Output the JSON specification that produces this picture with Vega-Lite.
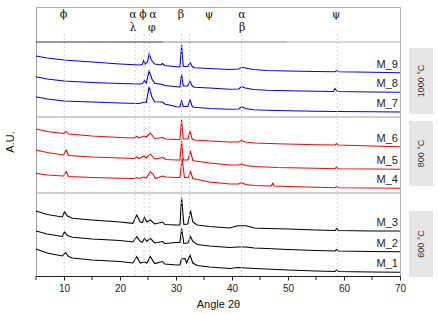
{
 "$schema": "https://vega.github.io/schema/vega-lite/v6.json",
 "width": 364, "height": 269,
 "autosize": {"type": "none"},
 "padding": {"left": 36, "top": 7, "right": 38, "bottom": 38},
 "config": {"view": {"stroke": "#b0b0b0", "strokeWidth": 1}, "font": "Liberation Sans"},
 "datasets": {
  "xrd": [
{"s":"M_9","t":5,"i":220},{"s":"M_9","t":7,"i":218},{"s":"M_9","t":10,"i":216},{"s":"M_9","t":15,"i":214},{"s":"M_9","t":20,"i":212},{"s":"M_9","t":23.5,"i":211},{"s":"M_9","t":24.0,"i":211.5},{"s":"M_9","t":24.2,"i":215.3},{"s":"M_9","t":24.5,"i":212},{"s":"M_9","t":24.9,"i":214},{"s":"M_9","t":25.2,"i":222},{"s":"M_9","t":25.6,"i":216},{"s":"M_9","t":26.2,"i":212},{"s":"M_9","t":27.3,"i":211},{"s":"M_9","t":27.6,"i":212.5},{"s":"M_9","t":28,"i":210.5},{"s":"M_9","t":30.1,"i":209.3},{"s":"M_9","t":30.7,"i":209},{"s":"M_9","t":31.0,"i":231},{"s":"M_9","t":31.3,"i":209.5},{"s":"M_9","t":32.1,"i":209.5},{"s":"M_9","t":32.5,"i":213.3},{"s":"M_9","t":32.9,"i":209.5},{"s":"M_9","t":33.3,"i":208.3},{"s":"M_9","t":36,"i":207.5},{"s":"M_9","t":39.6,"i":206.5},{"s":"M_9","t":41.2,"i":207},{"s":"M_9","t":41.7,"i":208.7},{"s":"M_9","t":42.4,"i":208},{"s":"M_9","t":43.8,"i":206.5},{"s":"M_9","t":46.2,"i":205.5},{"s":"M_9","t":50,"i":205},{"s":"M_9","t":55,"i":204.5},{"s":"M_9","t":58.4,"i":204.3},{"s":"M_9","t":58.7,"i":205.5},{"s":"M_9","t":59.0,"i":204.3},{"s":"M_9","t":65,"i":203.7},{"s":"M_9","t":70,"i":203.3},
{"s":"M_8","t":5,"i":199.3},{"s":"M_8","t":7,"i":197},{"s":"M_8","t":10,"i":195},{"s":"M_8","t":15,"i":193.5},{"s":"M_8","t":20,"i":192.5},{"s":"M_8","t":23.5,"i":192},{"s":"M_8","t":24.0,"i":192.5},{"s":"M_8","t":24.35,"i":195.3},{"s":"M_8","t":24.7,"i":193},{"s":"M_8","t":25.2,"i":205.3},{"s":"M_8","t":25.7,"i":197},{"s":"M_8","t":26.2,"i":192.7},{"s":"M_8","t":27.6,"i":191.5},{"s":"M_8","t":27.9,"i":190.5},{"s":"M_8","t":30.1,"i":189.3},{"s":"M_8","t":30.7,"i":189},{"s":"M_8","t":31.0,"i":202},{"s":"M_8","t":31.3,"i":190},{"s":"M_8","t":32.1,"i":190},{"s":"M_8","t":32.5,"i":194.7},{"s":"M_8","t":32.9,"i":190},{"s":"M_8","t":33.3,"i":188.7},{"s":"M_8","t":36,"i":188},{"s":"M_8","t":39.6,"i":186.7},{"s":"M_8","t":41.2,"i":187},{"s":"M_8","t":41.7,"i":189.3},{"s":"M_8","t":42.4,"i":188},{"s":"M_8","t":43.8,"i":186.5},{"s":"M_8","t":46.2,"i":185.7},{"s":"M_8","t":50,"i":185.2},{"s":"M_8","t":55,"i":184.7},{"s":"M_8","t":58.1,"i":184.5},{"s":"M_8","t":58.4,"i":187.5},{"s":"M_8","t":58.8,"i":184.5},{"s":"M_8","t":65,"i":184},{"s":"M_8","t":70,"i":183.7},
{"s":"M_7","t":5,"i":179.3},{"s":"M_7","t":7,"i":177},{"s":"M_7","t":10,"i":175},{"s":"M_7","t":15,"i":174},{"s":"M_7","t":20,"i":173},{"s":"M_7","t":23.5,"i":172.5},{"s":"M_7","t":24.3,"i":174},{"s":"M_7","t":24.7,"i":173.5},{"s":"M_7","t":25.2,"i":189.3},{"s":"M_7","t":25.7,"i":179},{"s":"M_7","t":26.2,"i":174.3},{"s":"M_7","t":27.6,"i":174},{"s":"M_7","t":28,"i":172},{"s":"M_7","t":30.1,"i":169.3},{"s":"M_7","t":30.7,"i":169},{"s":"M_7","t":31.0,"i":175.3},{"s":"M_7","t":31.3,"i":169.5},{"s":"M_7","t":32.1,"i":169.5},{"s":"M_7","t":32.5,"i":176},{"s":"M_7","t":32.9,"i":169.5},{"s":"M_7","t":33.3,"i":168.7},{"s":"M_7","t":36,"i":167.5},{"s":"M_7","t":39.6,"i":166.7},{"s":"M_7","t":41.2,"i":167},{"s":"M_7","t":41.7,"i":169.3},{"s":"M_7","t":42.4,"i":167.5},{"s":"M_7","t":43.8,"i":166.3},{"s":"M_7","t":46.2,"i":165.7},{"s":"M_7","t":50,"i":165.2},{"s":"M_7","t":55,"i":164.7},{"s":"M_7","t":58.7,"i":164.5},{"s":"M_7","t":65,"i":164.2},{"s":"M_7","t":70,"i":164},
{"s":"M_6","t":5,"i":147},{"s":"M_6","t":7,"i":144.5},{"s":"M_6","t":9.9,"i":142.5},{"s":"M_6","t":10.4,"i":144.5},{"s":"M_6","t":10.8,"i":142},{"s":"M_6","t":15,"i":140},{"s":"M_6","t":20,"i":138.5},{"s":"M_6","t":22.5,"i":138},{"s":"M_6","t":23.0,"i":139.5},{"s":"M_6","t":23.4,"i":138},{"s":"M_6","t":24.3,"i":140},{"s":"M_6","t":24.7,"i":139},{"s":"M_6","t":25.4,"i":143},{"s":"M_6","t":26.2,"i":137.5},{"s":"M_6","t":27.6,"i":138.5},{"s":"M_6","t":28.2,"i":137},{"s":"M_6","t":30.1,"i":136.5},{"s":"M_6","t":30.7,"i":136.5},{"s":"M_6","t":31.0,"i":156},{"s":"M_6","t":31.3,"i":137},{"s":"M_6","t":32.1,"i":137},{"s":"M_6","t":32.5,"i":144.3},{"s":"M_6","t":32.9,"i":137},{"s":"M_6","t":33.3,"i":136},{"s":"M_6","t":36,"i":135},{"s":"M_6","t":39.6,"i":134},{"s":"M_6","t":41.2,"i":134},{"s":"M_6","t":41.7,"i":135.5},{"s":"M_6","t":42.4,"i":134},{"s":"M_6","t":44,"i":133},{"s":"M_6","t":48,"i":132.2},{"s":"M_6","t":55,"i":131.3},{"s":"M_6","t":58.4,"i":131},{"s":"M_6","t":58.7,"i":132.5},{"s":"M_6","t":59.0,"i":131},{"s":"M_6","t":65,"i":130},{"s":"M_6","t":70,"i":129.3},
{"s":"M_5","t":5,"i":126},{"s":"M_5","t":7,"i":123.5},{"s":"M_5","t":9.9,"i":121},{"s":"M_5","t":10.4,"i":126},{"s":"M_5","t":10.8,"i":120.5},{"s":"M_5","t":15,"i":119},{"s":"M_5","t":20,"i":118},{"s":"M_5","t":22.5,"i":117.5},{"s":"M_5","t":23.0,"i":119},{"s":"M_5","t":23.4,"i":117.5},{"s":"M_5","t":24.3,"i":120},{"s":"M_5","t":24.7,"i":118},{"s":"M_5","t":25.4,"i":122},{"s":"M_5","t":26.2,"i":117},{"s":"M_5","t":27.6,"i":118.5},{"s":"M_5","t":28.2,"i":116.5},{"s":"M_5","t":30.1,"i":116},{"s":"M_5","t":30.7,"i":116},{"s":"M_5","t":31.0,"i":135},{"s":"M_5","t":31.3,"i":116},{"s":"M_5","t":32.1,"i":116},{"s":"M_5","t":32.6,"i":124.3},{"s":"M_5","t":33.0,"i":115.5},{"s":"M_5","t":33.4,"i":115},{"s":"M_5","t":36,"i":113},{"s":"M_5","t":39.6,"i":111},{"s":"M_5","t":41.2,"i":111},{"s":"M_5","t":41.7,"i":112},{"s":"M_5","t":42.4,"i":110.5},{"s":"M_5","t":44,"i":109.5},{"s":"M_5","t":48,"i":108.5},{"s":"M_5","t":55,"i":107.7},{"s":"M_5","t":58.4,"i":107.3},{"s":"M_5","t":58.7,"i":109},{"s":"M_5","t":59.0,"i":107.3},{"s":"M_5","t":65,"i":107},{"s":"M_5","t":70,"i":106.7},
{"s":"M_4","t":5,"i":102.7},{"s":"M_4","t":7,"i":101},{"s":"M_4","t":9.9,"i":100},{"s":"M_4","t":10.4,"i":104.3},{"s":"M_4","t":10.8,"i":99.5},{"s":"M_4","t":15,"i":98.5},{"s":"M_4","t":20,"i":97.7},{"s":"M_4","t":22.5,"i":97.5},{"s":"M_4","t":23.0,"i":98.5},{"s":"M_4","t":23.4,"i":97.5},{"s":"M_4","t":24.3,"i":99},{"s":"M_4","t":24.7,"i":98},{"s":"M_4","t":25.4,"i":104.3},{"s":"M_4","t":25.9,"i":102},{"s":"M_4","t":26.3,"i":97.5},{"s":"M_4","t":27.6,"i":100},{"s":"M_4","t":28.2,"i":99},{"s":"M_4","t":30.1,"i":98.5},{"s":"M_4","t":30.7,"i":98.5},{"s":"M_4","t":31.1,"i":117.7},{"s":"M_4","t":31.5,"i":98.5},{"s":"M_4","t":32.2,"i":98.5},{"s":"M_4","t":32.6,"i":104.3},{"s":"M_4","t":33.0,"i":97.5},{"s":"M_4","t":33.4,"i":97},{"s":"M_4","t":36,"i":94},{"s":"M_4","t":39.6,"i":92},{"s":"M_4","t":41.2,"i":92},{"s":"M_4","t":41.7,"i":93.3},{"s":"M_4","t":42.4,"i":91.5},{"s":"M_4","t":44,"i":90.5},{"s":"M_4","t":47.0,"i":90},{"s":"M_4","t":47.3,"i":93},{"s":"M_4","t":47.5,"i":90},{"s":"M_4","t":50,"i":89.5},{"s":"M_4","t":55,"i":88.7},{"s":"M_4","t":58.4,"i":88.3},{"s":"M_4","t":58.7,"i":89.5},{"s":"M_4","t":59.0,"i":88.3},{"s":"M_4","t":65,"i":88},{"s":"M_4","t":70,"i":87.7},
{"s":"M_3","t":5,"i":65},{"s":"M_3","t":7,"i":61.5},{"s":"M_3","t":9.7,"i":59},{"s":"M_3","t":10.1,"i":64.3},{"s":"M_3","t":10.6,"i":60},{"s":"M_3","t":11.5,"i":57.7},{"s":"M_3","t":15,"i":56},{"s":"M_3","t":20,"i":54},{"s":"M_3","t":22.3,"i":52.7},{"s":"M_3","t":23.0,"i":61},{"s":"M_3","t":23.6,"i":54},{"s":"M_3","t":24.0,"i":53.5},{"s":"M_3","t":24.35,"i":58.7},{"s":"M_3","t":24.8,"i":54},{"s":"M_3","t":25.4,"i":56},{"s":"M_3","t":26.2,"i":52},{"s":"M_3","t":27.6,"i":54},{"s":"M_3","t":28.0,"i":51.5},{"s":"M_3","t":30.1,"i":51},{"s":"M_3","t":30.7,"i":51},{"s":"M_3","t":31.0,"i":78.5},{"s":"M_3","t":31.4,"i":51.5},{"s":"M_3","t":32.1,"i":52},{"s":"M_3","t":32.6,"i":65.3},{"s":"M_3","t":33.0,"i":54},{"s":"M_3","t":33.8,"i":51},{"s":"M_3","t":36,"i":49.5},{"s":"M_3","t":39.6,"i":48},{"s":"M_3","t":41.0,"i":50.3},{"s":"M_3","t":42.5,"i":50.3},{"s":"M_3","t":44,"i":48},{"s":"M_3","t":46.2,"i":47.5},{"s":"M_3","t":50,"i":47},{"s":"M_3","t":55,"i":46},{"s":"M_3","t":58.4,"i":45.5},{"s":"M_3","t":58.7,"i":47.5},{"s":"M_3","t":59.0,"i":45.5},{"s":"M_3","t":65,"i":45},{"s":"M_3","t":70,"i":45},
{"s":"M_2","t":5,"i":45},{"s":"M_2","t":7,"i":42},{"s":"M_2","t":9.7,"i":39.5},{"s":"M_2","t":10.1,"i":44.3},{"s":"M_2","t":10.6,"i":40.5},{"s":"M_2","t":11.5,"i":38.7},{"s":"M_2","t":15,"i":37},{"s":"M_2","t":20,"i":35.5},{"s":"M_2","t":22.3,"i":34},{"s":"M_2","t":23.0,"i":39.3},{"s":"M_2","t":23.6,"i":34.5},{"s":"M_2","t":24.0,"i":34},{"s":"M_2","t":24.35,"i":37.7},{"s":"M_2","t":24.8,"i":34.5},{"s":"M_2","t":25.4,"i":37.7},{"s":"M_2","t":26.2,"i":33},{"s":"M_2","t":27.6,"i":34.5},{"s":"M_2","t":28.0,"i":32.5},{"s":"M_2","t":30.1,"i":33.5},{"s":"M_2","t":30.7,"i":33.5},{"s":"M_2","t":31.0,"i":47.5},{"s":"M_2","t":31.4,"i":32.5},{"s":"M_2","t":32.1,"i":33},{"s":"M_2","t":32.6,"i":39.3},{"s":"M_2","t":33.0,"i":34.5},{"s":"M_2","t":33.8,"i":31.5},{"s":"M_2","t":36,"i":30},{"s":"M_2","t":39.6,"i":28.5},{"s":"M_2","t":41.0,"i":29},{"s":"M_2","t":42.5,"i":29},{"s":"M_2","t":44,"i":28},{"s":"M_2","t":46.2,"i":27.5},{"s":"M_2","t":50,"i":26.5},{"s":"M_2","t":55,"i":25.5},{"s":"M_2","t":58.4,"i":25},{"s":"M_2","t":58.7,"i":26.5},{"s":"M_2","t":59.0,"i":25},{"s":"M_2","t":65,"i":24.5},{"s":"M_2","t":70,"i":24.3},
{"s":"M_1","t":5,"i":27},{"s":"M_1","t":7,"i":23},{"s":"M_1","t":9.7,"i":20},{"s":"M_1","t":10.3,"i":23.3},{"s":"M_1","t":10.8,"i":19.5},{"s":"M_1","t":11.5,"i":18},{"s":"M_1","t":15,"i":16},{"s":"M_1","t":20,"i":14.5},{"s":"M_1","t":22.3,"i":13},{"s":"M_1","t":23.0,"i":19.3},{"s":"M_1","t":23.6,"i":13},{"s":"M_1","t":24.35,"i":14},{"s":"M_1","t":24.8,"i":13},{"s":"M_1","t":25.4,"i":19.3},{"s":"M_1","t":26.2,"i":12.5},{"s":"M_1","t":27.6,"i":14.5},{"s":"M_1","t":28.0,"i":12},{"s":"M_1","t":30.1,"i":11},{"s":"M_1","t":30.7,"i":11},{"s":"M_1","t":31.0,"i":17.7},{"s":"M_1","t":31.3,"i":17},{"s":"M_1","t":31.6,"i":17.5},{"s":"M_1","t":31.9,"i":13},{"s":"M_1","t":32.5,"i":21},{"s":"M_1","t":33.0,"i":13},{"s":"M_1","t":33.8,"i":10.5},{"s":"M_1","t":36,"i":9},{"s":"M_1","t":39.6,"i":7.5},{"s":"M_1","t":41.0,"i":8.5},{"s":"M_1","t":42.5,"i":8},{"s":"M_1","t":44,"i":7.5},{"s":"M_1","t":46.2,"i":7},{"s":"M_1","t":50,"i":6},{"s":"M_1","t":55,"i":5},{"s":"M_1","t":58.4,"i":4.5},{"s":"M_1","t":58.7,"i":6},{"s":"M_1","t":59.0,"i":4.5},{"s":"M_1","t":65,"i":4},{"s":"M_1","t":70,"i":3.7}
  ],
  "ref": [{"t":10.05},{"t":22.7},{"t":24.3},{"t":25.3},{"t":31.0},{"t":32.4},{"t":41.7},{"t":58.8}],
  "minor": [{"m":5},{"m":15},{"m":25},{"m":35},{"m":45},{"m":55},{"m":65}],
  "phase": [
   {"p":"ϕ","t":9.9,"y":261},{"p":"α","t":22.3,"y":261},{"p":"ϕ","t":24.1,"y":261},{"p":"α","t":25.9,"y":261},{"p":"β","t":30.9,"y":261},{"p":"ψ","t":35.9,"y":261},{"p":"α","t":41.8,"y":261},{"p":"ψ","t":58.6,"y":261},
   {"p":"λ","t":22.3,"y":248},{"p":"φ","t":25.7,"y":248},{"p":"β","t":41.8,"y":248}
  ],
  "sep": [
   {"a":5,"b":27.7,"y":234,"c":"#333333"},{"a":27.7,"b":49.8,"y":234,"c":"#888888"},{"a":49.8,"b":70,"y":234,"c":"#b0b0b0"},
   {"a":5,"b":70,"y":159,"c":"#a0a0a0"},{"a":5,"b":70,"y":83,"c":"#a0a0a0"}
  ],
  "strip": [
   {"lab":"1000 °C","y1":228,"y2":162,"yc":195},
   {"lab":"800 °C","y1":155,"y2":90,"yc":122.5},
   {"lab":"600 °C","y1":65,"y2":-1,"yc":32}
  ]
 },
 "layer": [
  {
   "data": {"name": "xrd"},
   "mark": {"type": "line", "strokeWidth": 1.1},
   "encoding": {
    "x": {"field": "t", "type": "quantitative", "scale": {"domain": [5, 70], "nice": false, "zero": false},
     "axis": {"values": [10,20,30,40,50,60,70], "labelOverlap": false, "labelFlush": false, "labels": true, "title": "Angle 2θ", "grid": false, "tickSize": 4, "tickColor": "#222222", "domainColor": "#222222", "labelFontSize": 10, "labelColor": "#222222", "labelPadding": 3, "titleFontSize": 11, "titleFontWeight": "normal", "titleColor": "#111111", "titlePadding": 5}},
    "y": {"field": "i", "type": "quantitative", "scale": {"domain": [0, 269], "nice": false, "zero": false},
     "axis": {"title": "A.U.", "labels": false, "ticks": false, "grid": false, "domainColor": "#a0a0a0", "titleFontSize": 11, "titleFontWeight": "normal", "titleColor": "#111111", "titlePadding": 21}},
    "color": {"field": "s", "type": "nominal", "legend": null,
     "scale": {"domain": ["M_1","M_2","M_3","M_4","M_5","M_6","M_7","M_8","M_9"], "range": ["#000000","#000000","#000000","#ff0000","#ff0000","#ff0000","#0000ff","#0000ff","#0000ff"]}}
   }
  },
  {
   "data": {"name": "minor"},
   "mark": {"type": "tick", "orient": "vertical", "size": 4, "thickness": 1, "yOffset": 2, "color": "#222222", "opacity": 1},
   "encoding": {
    "x": {"field": "m", "type": "quantitative"},
    "y": {"datum": 0, "type": "quantitative"}
   }
  },
  {
   "data": {"name": "strip"},
   "mark": {"type": "rect", "fill": "#e6e6e6"},
   "encoding": {
    "x": {"datum": 71.6, "type": "quantitative"},
    "x2": {"datum": 75.9},
    "y": {"field": "y1", "type": "quantitative"},
    "y2": {"field": "y2"}
   }
  },
  {
   "data": {"name": "strip"},
   "mark": {"type": "text", "angle": 270, "align": "center", "baseline": "middle", "fontSize": 9, "fill": "#333333"},
   "encoding": {
    "x": {"datum": 73.75, "type": "quantitative"},
    "y": {"field": "yc", "type": "quantitative"},
    "text": {"field": "lab"}
   }
  },
  {
   "data": {"name": "ref"},
   "mark": {"type": "rule", "color": "#c8c8c8", "strokeDash": [2, 2], "strokeWidth": 0.8},
   "encoding": {
    "x": {"field": "t", "type": "quantitative"},
    "y": {"datum": 0, "type": "quantitative"},
    "y2": {"datum": 243}
   }
  },
  {
   "data": {"name": "sep"},
   "mark": {"type": "rule", "strokeWidth": 1},
   "encoding": {
    "x": {"field": "a", "type": "quantitative"},
    "x2": {"field": "b"},
    "y": {"field": "y", "type": "quantitative"},
    "stroke": {"field": "c", "type": "nominal", "scale": null}
   }
  },
  {
   "data": {"name": "xrd"},
   "transform": [{"filter": "datum.t === 70"}],
   "mark": {"type": "text", "align": "right", "baseline": "middle", "dx": -2, "dy": -8, "fontSize": 11, "fill": "#222222"},
   "encoding": {
    "x": {"field": "t", "type": "quantitative"},
    "y": {"field": "i", "type": "quantitative"},
    "text": {"field": "s"}
   }
  },
  {
   "data": {"name": "phase"},
   "mark": {"type": "text", "align": "center", "baseline": "middle", "fontSize": 11, "font": "DejaVu Serif", "fill": "#111111"},
   "encoding": {
    "x": {"field": "t", "type": "quantitative"},
    "y": {"field": "y", "type": "quantitative"},
    "text": {"field": "p"}
   }
  }
 ]
}
